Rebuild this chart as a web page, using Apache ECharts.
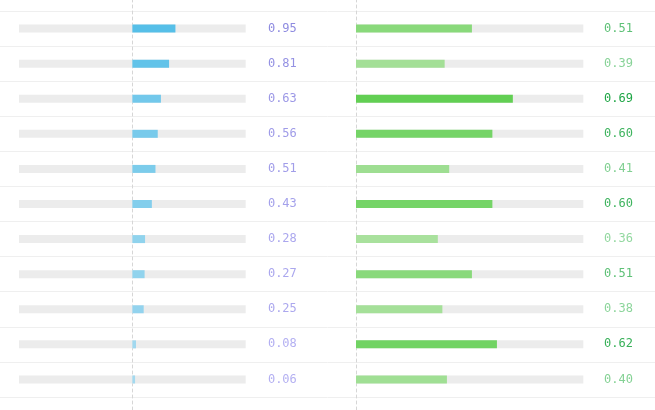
<!DOCTYPE html>
<html>
<head>
<meta charset="utf-8">
<script src="https://cdn.jsdelivr.net/npm/echarts@6/dist/echarts.min.js"></script>
<style>html,body{margin:0;padding:0;background:#fff}#c{width:655px;height:410px}</style>
</head>
<body>
<div id="c"></div>
<script>
var categories = ['r1','r2','r3','r4','r5','r6','r7','r8','r9','r10','r11'];
var leftValues = [0.95, 0.81, 0.63, 0.56, 0.51, 0.43, 0.28, 0.27, 0.25, 0.08, 0.06];
var rightValues = [0.51, 0.39, 0.69, 0.60, 0.41, 0.60, 0.36, 0.51, 0.38, 0.62, 0.40];

function mix(c1, c2, t) {
  var a = [parseInt(c1.substr(1,2),16), parseInt(c1.substr(3,2),16), parseInt(c1.substr(5,2),16)];
  var b = [parseInt(c2.substr(1,2),16), parseInt(c2.substr(3,2),16), parseInt(c2.substr(5,2),16)];
  var r = a.map(function(v,i){ return Math.round(v + (b[i]-v)*t); });
  return 'rgb(' + r.join(',') + ')';
}
function norm(arr, v) {
  var mn = Math.min.apply(null, arr), mx = Math.max.apply(null, arr);
  return (v - mn) / (mx - mn);
}

var leftData = leftValues.map(function(v){
  var t = norm(leftValues, v);
  return {
    value: v,
    itemStyle: { color: mix('#a3d9ef', '#56bfe8', t) },
    label: { color: mix('#b4b0f2', '#8e8be0', t) }
  };
});
var rightData = rightValues.map(function(v){
  var t = norm(rightValues, v);
  return {
    value: v,
    itemStyle: { color: mix('#a9e19d', '#62cf53', t) },
    label: { color: mix('#93d8a0', '#1fa646', t) }
  };
});

var chart = echarts.init(document.getElementById('c'), null, {renderer: 'canvas'});
var hiddenCat = function(gi) {
  return { type: 'category', gridIndex: gi, data: categories, inverse: true, show: false };
};
var fontFam = '"DejaVu Sans Mono", "Liberation Mono", monospace';
chart.setOption({
  animation: false,
  grid: [
    { left: 19, width: 226.7, top: 11, height: 386 },
    { left: 356, width: 227.3, top: 11, height: 386 },
    { left: 0, right: 0, top: 11, height: 386 },
    { left: 19, width: 226.7, top: 0, bottom: 0 },
    { left: 356, width: 227.3, top: 0, bottom: 0 }
  ],
  xAxis: [
    { type: 'value', gridIndex: 0, min: -2.5, max: 2.5, show: false },
    { type: 'value', gridIndex: 1, min: 0, max: 1, show: false },
    { type: 'value', gridIndex: 2, min: 0, max: 1, show: false },
    { type: 'value', gridIndex: 3, min: -2.5, max: 2.5, axisLine: {show: false}, axisTick: {show: false}, axisLabel: {show: false}, splitLine: {show: false} },
    { type: 'value', gridIndex: 4, min: 0, max: 1, axisLine: {show: false}, axisTick: {show: false}, axisLabel: {show: false}, splitLine: {show: false} }
  ],
  yAxis: [
    hiddenCat(0),
    hiddenCat(1),
    { type: 'category', gridIndex: 2, data: categories, inverse: true,
      axisLine: {show: false}, axisTick: {show: false}, axisLabel: {show: false},
      splitLine: { show: true, lineStyle: { color: '#efefef', width: 1 } } },
    { type: 'value', gridIndex: 3, min: 0, max: 1,
      axisLine: { show: true, onZero: true, lineStyle: { color: '#d6d6d6', type: [3, 3], width: 1 } },
      axisTick: {show: false}, axisLabel: {show: false}, splitLine: {show: false} },
    { type: 'value', gridIndex: 4, min: 0, max: 1,
      axisLine: { show: true, onZero: true, lineStyle: { color: '#d6d6d6', type: [3, 3], width: 1 } },
      axisTick: {show: false}, axisLabel: {show: false}, splitLine: {show: false} }
  ],
  series: [
    { type: 'bar', xAxisIndex: 0, yAxisIndex: 0, data: leftData, barWidth: 8,
      showBackground: true, backgroundStyle: { color: '#ececec' },
      label: { show: true, position: [150, '50%'], align: 'center', verticalAlign: 'middle',
        fontFamily: fontFam, fontSize: 12,
        formatter: function(p){ return p.value.toFixed(2); } } },
    { type: 'bar', xAxisIndex: 1, yAxisIndex: 1, data: rightData, barWidth: 8,
      showBackground: true, backgroundStyle: { color: '#ececec' },
      label: { show: true, position: [262.5, '50%'], align: 'center', verticalAlign: 'middle',
        fontFamily: fontFam, fontSize: 12,
        formatter: function(p){ return p.value.toFixed(2); } } }
  ]
});
</script>
</body>
</html>
